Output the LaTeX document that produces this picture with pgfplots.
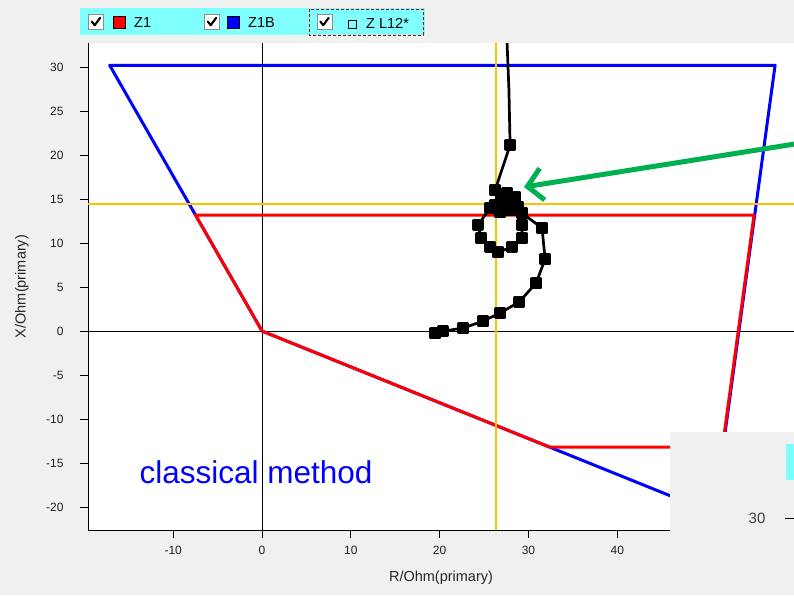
\documentclass[border=0pt]{standalone}
\usepackage{pgfplots}
\pgfplotsset{compat=1.18}
\usepackage{fontspec}
\setmainfont{Liberation Sans}
\usetikzlibrary{arrows.meta}
\definecolor{bg}{HTML}{F0F0F0}
\definecolor{zred}{HTML}{FF0000}
\definecolor{zblue}{HTML}{0000FF}
\definecolor{gold}{HTML}{FFC000}
\definecolor{lcyan}{HTML}{80FFFF}
\definecolor{arrowgreen}{HTML}{00B050}
\definecolor{ticktext}{HTML}{202020}

% checkbox at pixel position (x,y) of the window
\newcommand{\cbox}[2]{%
  \filldraw[fill=white, draw=black!45, line width=0.8pt]
    ({#1pt-7.5pt},{-#2pt-7.5pt}) rectangle ({#1pt+7.5pt},{-#2pt+7.5pt});
  \draw[line width=2.1pt, line cap=round, line join=round]
    ({#1pt-4.2pt},{-#2pt+0.5pt}) -- ({#1pt-1.3pt},{-#2pt-3.2pt}) -- ({#1pt+4.2pt},{-#2pt+4.2pt});}

\begin{document}
\begin{tikzpicture}
\useasboundingbox (0,0) rectangle (794pt,-595pt);
\clip (0,0) rectangle (794pt,-595pt);
\fill[bg] (0,0) rectangle (794pt,-595pt);

\begin{axis}[
  at={(88pt,-530pt)}, anchor=south west,
  scale only axis, width=706pt, height=487pt,
  xmin=-19.6, xmax=59.9, ymin=-22.6, ymax=32.73,
  axis x line*=bottom, axis y line*=left,
  axis line style={-, black, line width=0.8pt},
  axis background/.style={fill=white},
  xtick={-10,0,10,20,30,40,50},
  ytick={-20,-15,-10,-5,0,5,10,15,20,25,30},
  tick align=outside, major tick length=8pt,
  tick style={black, line width=0.8pt},
  /pgf/number format/assume math mode=true,
  ticklabel style={font=\fontsize{12}{12}\selectfont, text=ticktext},
  xticklabel style={yshift=-5pt},
  yticklabel style={xshift=-13pt},
  xlabel={R/Ohm(primary)}, ylabel={X/Ohm(primary)},
  label style={font=\fontsize{14.5}{15}\selectfont, text=black!85},
  xlabel style={at={(axis description cs:0.5,-0.0986)}, anchor=center},
  ylabel style={at={(axis description cs:-0.0935,0.5)}, anchor=center},
  clip=true,
]
% zero lines
\addplot[black, line width=0.8pt] coordinates {(0,-22.6) (0,32.73)};
\addplot[black, line width=0.8pt] coordinates {(-19.6,0) (59.9,0)};

% Z1B zone
\addplot[zblue, line width=3pt, line join=round] coordinates {
  (0,0) (-17.16,30.2) (57.77,30.2) (50.9,-20.72) (0,0)};
% Z1 zone
\addplot[zred, line width=3pt, line join=round] coordinates {
  (0,0) (-7.49,13.18) (55.4,13.18) (51.84,-13.18) (32.38,-13.18) (0,0)};

% crosshair
\addplot[gold, line width=1.6pt] coordinates {(26.35,-22.6) (26.35,32.73)};
\addplot[gold, line width=1.6pt] coordinates {(-19.6,14.43) (59.9,14.43)};

% Z L12* impedance trajectory
\addplot[black, line width=2.7pt, line join=round, mark=square*,
         mark size=4.8pt, mark options={solid, rounded corners=1.2pt}]
  coordinates {
  (19.48,-0.23) (20.38,0.00) (22.64,0.34) (24.89,1.14) (26.80,2.05)
  (28.94,3.30) (30.86,5.45) (31.87,8.18) (31.53,11.70) (29.28,13.41)
  (29.28,12.05) (29.28,10.57) (28.15,9.55) (26.58,8.98) (25.68,9.55)
  (24.66,10.57) (24.32,12.05) (25.68,13.98) (26.24,14.32) (26.80,13.52)
  (27.93,13.75) (28.83,14.09) (27.9,14.8) (26.9,14.9) (28.49,15.23)
  (27.59,15.68) (26.24,16.02) (27.93,21.14)};
\addplot[black, line width=2.7pt, line join=round] coordinates {
  (27.93,21.14) (27.8,27.4) (27.59,32.73) (27.5,34)};

% crosshair drawn over the black marks
\addplot[zblue, line width=1.6pt] coordinates {(26.35,12.9) (26.35,16.6)};
\addplot[zblue, line width=1.6pt] coordinates {(25.0,14.43) (29.5,14.43)};
\addplot[zblue, line width=1.6pt] coordinates {(26.35,8.4) (26.35,9.6)};
\addplot[zblue, line width=1.6pt] coordinates {(26.35,1.4) (26.35,2.7)};
\end{axis}

% label inside the plot
\node[text=zblue, font=\fontsize{31.5}{32}\selectfont, anchor=base west]
  at (136pt,-483pt) {classical method};

% arrow pointing at the fault impedance
\draw[arrowgreen, line width=5pt,
      -{Straight Barb[length=15pt, width=32pt]}]
  (820pt,-140pt) -- (524pt,-187pt);

% neighbouring window in the lower right corner
\fill[bg] (670pt,-432pt) rectangle (794pt,-595pt);
\fill[lcyan] (786pt,-444pt) rectangle (794pt,-480pt);
\node[font=\fontsize{15}{16}\selectfont, text=black!75] at (757pt,-518pt) {30};
\draw[black, line width=0.9pt] (785pt,-518pt) -- (794pt,-518pt);

% series selector
\fill[lcyan] (80pt,-8pt) rectangle (425pt,-35pt);
\cbox{96}{22}
\filldraw[fill=zred, draw=black, line width=0.7pt] (113.5pt,-16.5pt) rectangle (125.5pt,-28.5pt);
\node[anchor=west, font=\fontsize{14.5}{15}\selectfont, inner sep=0pt] at (134pt,-23pt) {Z1};
\cbox{212}{22}
\filldraw[fill=zblue, draw=black, line width=0.7pt] (227.5pt,-16.5pt) rectangle (239.5pt,-28.5pt);
\node[anchor=west, font=\fontsize{14.5}{15}\selectfont, inner sep=0pt] at (248pt,-23pt) {Z1B};
\draw[zred!75!black, line width=1pt, dash pattern=on 3pt off 2pt]
  (309pt,-9pt) rectangle (423pt,-35pt);
\cbox{324.5}{22}
\draw[black, line width=0.9pt] (348.5pt,-20.5pt) rectangle (356.5pt,-28.5pt);
\node[anchor=west, font=\fontsize{14.5}{15}\selectfont, inner sep=0pt] at (366pt,-23pt) {Z L12*};
\end{tikzpicture}
\end{document}
